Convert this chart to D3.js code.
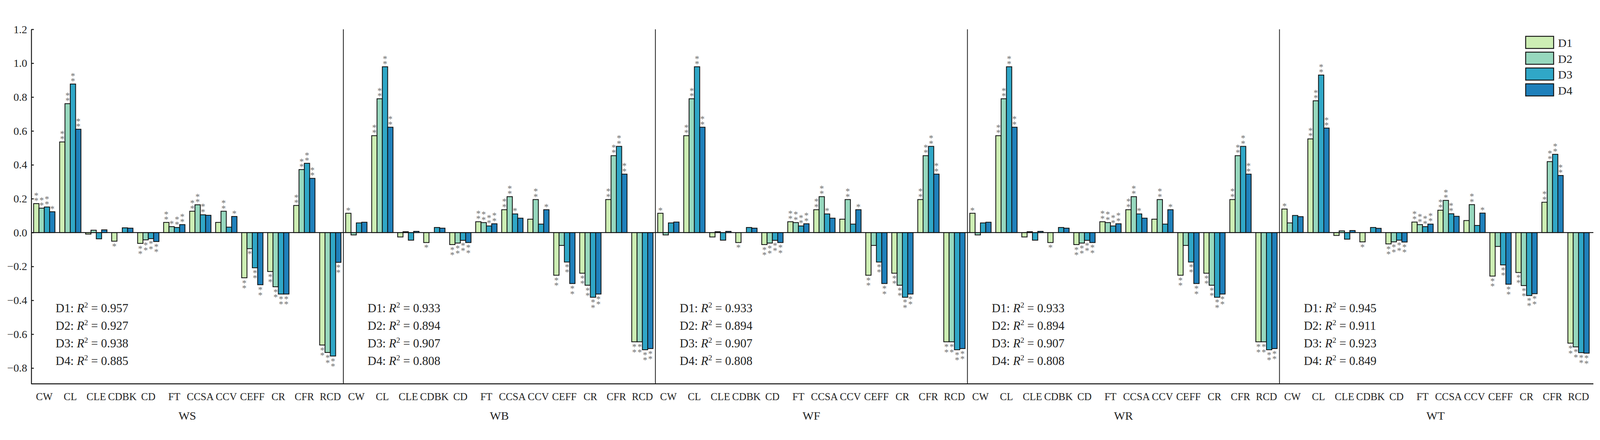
<!DOCTYPE html>
<html>
<head>
<meta charset="utf-8">
<script src="https://cdn.jsdelivr.net/npm/d3@7"></script>
<style>
  html, body { margin: 0; padding: 0; background: #fff; overflow: hidden; }
  #chart { display: block; width: 100vw; height: 100vh; }
  svg text { font-family: "Liberation Serif", "Times New Roman", serif; }
</style>
</head>
<body>
<svg id="chart" viewBox="0 0 4348 1126" preserveAspectRatio="xMidYMid meet"></svg>
<script>
// group panels, categories and series
const groups = ["WS", "WB", "WF", "WR", "WT"];
const categories = ["CW", "CL", "CLE", "CDBK", "CD", "FT", "CCSA", "CCV", "CEFF", "CR", "CFR", "RCD"];
const series = ["D1", "D2", "D3", "D4"];
const colors = ["#cdeeb4", "#97d8be", "#30a7c7", "#1f80bb"];
const yTicks = [-0.8, -0.6, -0.4, -0.2, 0.0, 0.2, 0.4, 0.6, 0.8, 1.0, 1.2];

// one row per category: [D1, D2, D3, D4]
const valuesWS = [
  [0.171, 0.144, 0.151, 0.123],
  [0.535, 0.761, 0.877, 0.610],
  [-0.009, 0.014, -0.037, 0.016],
  [-0.051, 0.000, 0.028, 0.026],
  [-0.064, -0.043, -0.036, -0.053],
  [0.060, 0.035, 0.030, 0.047],
  [0.126, 0.164, 0.105, 0.102],
  [0.060, 0.126, 0.032, 0.095],
  [-0.267, -0.095, -0.208, -0.308],
  [-0.230, -0.320, -0.363, -0.363],
  [0.160, 0.372, 0.409, 0.320],
  [-0.664, -0.708, -0.729, -0.176]
];
const valuesWB = [
  [0.114, -0.014, 0.057, 0.061],
  [0.572, 0.790, 0.979, 0.622],
  [-0.026, 0.005, -0.045, 0.007],
  [-0.059, 0.000, 0.030, 0.026],
  [-0.071, -0.062, -0.046, -0.059],
  [0.064, 0.059, 0.039, 0.052],
  [0.135, 0.212, 0.110, 0.085],
  [0.079, 0.195, 0.050, 0.135],
  [-0.252, -0.076, -0.174, -0.301],
  [-0.240, -0.311, -0.382, -0.363],
  [0.195, 0.454, 0.509, 0.345],
  [-0.645, -0.645, -0.692, -0.685]
];
const valuesWF = [
  [0.114, -0.014, 0.057, 0.062],
  [0.572, 0.790, 0.979, 0.622],
  [-0.026, 0.005, -0.045, 0.007],
  [-0.059, 0.000, 0.030, 0.026],
  [-0.071, -0.062, -0.046, -0.059],
  [0.064, 0.059, 0.039, 0.052],
  [0.135, 0.212, 0.110, 0.085],
  [0.079, 0.195, 0.050, 0.135],
  [-0.252, -0.076, -0.174, -0.301],
  [-0.240, -0.311, -0.382, -0.363],
  [0.195, 0.454, 0.509, 0.345],
  [-0.645, -0.645, -0.692, -0.685]
];
const valuesWR = [
  [0.114, -0.014, 0.057, 0.061],
  [0.572, 0.790, 0.979, 0.622],
  [-0.026, 0.005, -0.045, 0.007],
  [-0.059, 0.000, 0.030, 0.026],
  [-0.071, -0.062, -0.046, -0.059],
  [0.064, 0.059, 0.039, 0.052],
  [0.135, 0.212, 0.110, 0.085],
  [0.079, 0.195, 0.050, 0.135],
  [-0.252, -0.076, -0.174, -0.301],
  [-0.240, -0.311, -0.382, -0.363],
  [0.195, 0.454, 0.509, 0.345],
  [-0.645, -0.645, -0.692, -0.685]
];
const valuesWT = [
  [0.139, 0.057, 0.101, 0.094],
  [0.553, 0.778, 0.930, 0.617],
  [-0.017, 0.010, -0.039, 0.012],
  [-0.055, 0.000, 0.030, 0.025],
  [-0.067, -0.055, -0.045, -0.056],
  [0.062, 0.047, 0.035, 0.050],
  [0.132, 0.190, 0.111, 0.096],
  [0.071, 0.165, 0.042, 0.115],
  [-0.257, -0.082, -0.191, -0.305],
  [-0.236, -0.313, -0.372, -0.361],
  [0.179, 0.419, 0.462, 0.337],
  [-0.653, -0.675, -0.709, -0.712]
];

// significance: number of asterisks per bar
const starsWS = [
  [2, 2, 2, 1], [2, 2, 2, 2], [0, 0, 0, 0], [1, 0, 0, 0], [2, 2, 2, 2], [2, 1, 2, 2],
  [2, 2, 2, 0], [0, 2, 0, 1], [2, 1, 2, 2], [2, 2, 2, 2], [2, 2, 2, 2], [2, 2, 2, 2]
];
const starsWB = [
  [1, 0, 0, 0], [2, 2, 2, 2], [0, 0, 0, 0], [1, 0, 0, 0], [2, 2, 2, 2], [2, 2, 2, 2],
  [2, 2, 1, 0], [0, 2, 0, 1], [2, 0, 2, 2], [2, 2, 2, 2], [2, 2, 2, 2], [2, 2, 2, 2]
];
const starsWF = [
  [1, 0, 0, 0], [2, 2, 2, 2], [0, 0, 0, 0], [1, 0, 0, 0], [2, 2, 2, 2], [2, 2, 2, 2],
  [2, 2, 1, 0], [0, 2, 0, 1], [2, 0, 2, 2], [2, 2, 2, 2], [2, 2, 2, 2], [2, 2, 2, 2]
];
const starsWR = [
  [1, 0, 0, 0], [2, 2, 2, 2], [0, 0, 0, 0], [1, 0, 0, 0], [2, 2, 2, 2], [2, 2, 2, 2],
  [2, 2, 1, 0], [0, 2, 0, 1], [2, 0, 2, 2], [2, 2, 2, 2], [2, 2, 2, 2], [2, 2, 2, 2]
];
const starsWT = [
  [1, 0, 0, 0], [2, 2, 2, 2], [0, 0, 0, 0], [1, 0, 0, 0], [2, 2, 2, 2], [2, 2, 2, 2],
  [2, 2, 2, 0], [0, 2, 0, 1], [2, 0, 2, 2], [2, 2, 2, 2], [2, 2, 2, 2], [2, 2, 2, 2]
];

const r2WS = ["0.957", "0.927", "0.938", "0.885"];
const r2WB = ["0.933", "0.894", "0.907", "0.808"];
const r2WF = ["0.933", "0.894", "0.907", "0.808"];
const r2WR = ["0.933", "0.894", "0.907", "0.808"];
const r2WT = ["0.945", "0.911", "0.923", "0.849"];

const panelValues = [valuesWS, valuesWB, valuesWF, valuesWR, valuesWT];
const panelStars = [starsWS, starsWB, starsWF, starsWR, starsWT];
const panelR2 = [r2WS, r2WB, r2WF, r2WR, r2WT];

// layout (viewBox units)
const plotLeft = 85, panelW = 848, plotRight = 4330;
const plotTop = 45, plotBottom = 1008;

const svg = d3.select('#chart');
svg.append('rect').attr('width', 4348).attr('height', 1126).attr('fill', '#fff');

const y = d3.scaleLinear().domain([-0.893, 1.2]).range([plotBottom, plotTop]);

const panelX = d3.scaleBand().domain(groups).range([plotLeft, plotLeft + panelW * groups.length]);
const x0 = d3.scaleBand().domain(categories).range([0, panelW]).paddingInner(0.18).paddingOuter(0.09);
const x1 = d3.scaleBand().domain(series).range([0, x0.bandwidth()]);
const color = d3.scaleOrdinal().domain(series).range(colors);

groups.forEach((g, gi) => {
  const panel = svg.append('g').attr('transform', `translate(${panelX(g)},0)`);
  const vals = panelValues[gi];
  const stars = panelStars[gi];

  const cat = panel.selectAll('g.cat')
    .data(categories)
    .join('g')
    .attr('class', 'cat')
    .attr('transform', d => `translate(${x0(d)},0)`);

  cat.selectAll('rect')
    .data((d, ci) => series.map((s, si) => ({ s, v: vals[ci][si] })))
    .join('rect')
    .attr('x', d => x1(d.s))
    .attr('width', x1.bandwidth())
    .attr('y', d => y(Math.max(0, d.v)))
    .attr('height', d => Math.abs(y(d.v) - y(0)))
    .attr('fill', d => color(d.s))
    .attr('stroke', '#111')
    .attr('stroke-width', 2.2);

  // asterisks stacked vertically above (or below) each bar, one text per bar
  const starData = [];
  categories.forEach((c, ci) => series.forEach((s, si) => {
    const n = stars[ci][si];
    if (n > 0) starData.push({ c, s, v: vals[ci][si], n });
  }));
  const starText = panel.selectAll('text.star')
    .data(starData)
    .join('text')
    .attr('class', 'star')
    .attr('text-anchor', 'middle')
    .attr('font-size', 24)
    .attr('fill', '#6e6e6e');
  starText.each(function (d) {
    const cx = x0(d.c) + x1(d.s) + x1.bandwidth() / 2;
    const t = d3.select(this);
    for (let k = 0; k < d.n; k++) {
      const off = 11 + k * 14;
      const cy = d.v >= 0 ? y(d.v) - off : y(d.v) + off;
      t.append('tspan').attr('x', cx).attr('y', cy + 11).text('*');
    }
  });

  // category labels
  panel.selectAll('text.cat')
    .data(categories)
    .join('text')
    .attr('class', 'cat')
    .attr('x', d => x0(d) + x0.bandwidth() / 2)
    .attr('y', 1052)
    .attr('text-anchor', 'middle')
    .attr('font-size', 28)
    .attr('fill', '#222')
    .text(d => d);

  // group label
  panel.append('text')
    .attr('x', panelW / 2)
    .attr('y', 1105)
    .attr('text-anchor', 'middle')
    .attr('font-size', 32)
    .attr('fill', '#222')
    .text(g);

  // R^2 annotations
  const r2 = panel.selectAll('text.r2')
    .data(series)
    .join('text')
    .attr('class', 'r2')
    .attr('x', 66)
    .attr('y', (d, i) => 814 + i * 47.7)
    .attr('font-size', 33)
    .attr('fill', '#222');
  r2.append('tspan').text(d => d + ': ');
  r2.append('tspan').attr('font-style', 'italic').text('R');
  r2.append('tspan').attr('font-size', 21).attr('dy', -13).text('2');
  r2.append('tspan').attr('dy', 13).text((d, i) => ' = ' + panelR2[gi][i]);
});

// zero line
svg.append('line')
  .attr('x1', plotLeft).attr('x2', plotRight)
  .attr('y1', y(0)).attr('y2', y(0))
  .attr('stroke', '#111').attr('stroke-width', 2.2);

// panel dividers
svg.selectAll('line.div')
  .data(groups.slice(1))
  .join('line')
  .attr('class', 'div')
  .attr('x1', d => panelX(d)).attr('x2', d => panelX(d))
  .attr('y1', plotTop).attr('y2', plotBottom)
  .attr('stroke', '#111').attr('stroke-width', 2);

// bottom axis line
svg.append('line')
  .attr('x1', plotLeft).attr('x2', plotRight)
  .attr('y1', plotBottom).attr('y2', plotBottom)
  .attr('stroke', '#111').attr('stroke-width', 2.5);

// y axis, ticks pointing inward
const yAxis = svg.append('g')
  .attr('transform', `translate(${plotLeft},0)`)
  .call(d3.axisLeft(y).tickValues(yTicks).tickFormat(d3.format('.1f'))
    .tickSizeInner(-7).tickSizeOuter(0).tickPadding(11));
yAxis.select('.domain').attr('stroke', '#111').attr('stroke-width', 2.5);
yAxis.selectAll('.tick line').attr('stroke', '#111').attr('stroke-width', 2.5);
yAxis.selectAll('.tick text')
  .attr('font-size', 30)
  .attr('fill', '#222')
  .attr('font-family', '"Liberation Serif", "Times New Roman", serif');

// legend
const legend = svg.append('g').attr('transform', 'translate(4146,64)');
const item = legend.selectAll('g')
  .data(series)
  .join('g')
  .attr('transform', (d, i) => `translate(0,${i * 43})`);
item.append('rect')
  .attr('width', 76).attr('height', 33)
  .attr('fill', d => color(d))
  .attr('stroke', '#111').attr('stroke-width', 2.5);
item.append('text')
  .attr('x', 88).attr('y', 29)
  .attr('font-size', 32)
  .attr('fill', '#222')
  .text(d => d);
</script>
</body>
</html>
